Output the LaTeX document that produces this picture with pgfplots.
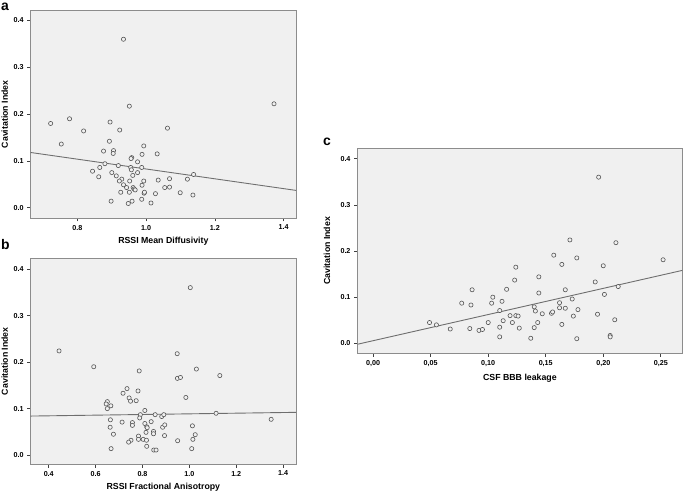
\documentclass[border=0pt]{standalone}
\usepackage{fontspec}
\setmainfont{Liberation Sans}
\usepackage{pgfplots}
\pgfplotsset{compat=1.18}

\definecolor{bgray}{HTML}{F0F0F0}
\definecolor{framegray}{HTML}{8C8C8C}
\definecolor{markgray}{HTML}{555555}
\definecolor{linegray}{HTML}{6E6E6E}

\pgfplotsset{
  spss/.style={
    scale only axis,
    axis background/.style={fill=bgray},
    axis line style={framegray, line width=0.9bp},
    tick align=outside,
    tick pos=left,
    major tick length=3.5bp,
    every tick/.style={black!75, line width=0.6bp},
    tick label style={font=\fontsize{7.2}{8}\selectfont\bfseries},
    /pgf/number format/assume math mode=true,
    label style={font=\fontsize{8.8}{10}\selectfont\bfseries},
    ytick={0,0.1,0.2,0.3,0.4},
    yticklabel style={/pgf/number format/.cd, fixed, fixed zerofill, precision=1},
    ylabel={Cavitation Index},
  },
  dots/.style={only marks, mark=*, mark size=2.1bp, mark options={draw=markgray, fill=bgray, line width=0.6bp}},
  fitline/.style={no marks, linegray, line width=0.9bp},
}

\begin{document}
\begin{tikzpicture}
\useasboundingbox (0,0) rectangle (684bp,492bp);

% ---------------- panel a ----------------
\begin{axis}[spss,
  at={(30.7bp,274bp)}, anchor=south west,
  width=265.3bp, height=207.3bp,
  xmin=0.664, xmax=1.436, ymin=-0.022, ymax=0.421,
  xtick={0.8,1.0,1.2,1.4},
  xticklabel style={/pgf/number format/.cd, fixed, fixed zerofill, precision=1},
  xlabel={RSSI Mean Diffusivity},
  xlabel style={at={([yshift=-23bp]axis description cs:0.5,0)}, anchor=center},
  ylabel style={at={([xshift=-26bp]axis description cs:0,0.5)}, anchor=center},
]
\addplot[dots] coordinates {
(0.934,0.360) (1.372,0.222) (0.951,0.217) (0.722,0.180) (0.777,0.190)
(0.818,0.164) (0.895,0.183) (0.923,0.166) (1.062,0.170) (0.753,0.136)
(0.893,0.142) (0.993,0.132) (0.876,0.121) (0.905,0.122) (0.904,0.116)
(0.988,0.114) (1.032,0.115) (0.958,0.107) (0.975,0.098) (0.956,0.105)
(0.880,0.094) (0.919,0.090) (0.987,0.086) (0.955,0.086) (0.957,0.081)
(0.865,0.086) (0.844,0.078) (0.862,0.066) (0.900,0.075) (0.913,0.068)
(0.929,0.061) (0.922,0.057) (0.952,0.057) (0.961,0.069) (0.975,0.075)
(0.934,0.049) (0.943,0.043) (0.962,0.043) (0.965,0.040) (0.968,0.038)
(0.988,0.048) (0.993,0.057) (1.035,0.059) (1.068,0.062) (1.054,0.043)
(1.068,0.044) (1.120,0.061) (1.138,0.071) (0.926,0.033) (0.951,0.033)
(0.994,0.031) (0.995,0.033) (1.027,0.030) (1.099,0.032) (1.136,0.027)
(0.898,0.014) (0.948,0.009) (0.959,0.014) (0.987,0.018) (1.014,0.010)
};
\addplot[fitline] coordinates {(0.664,0.118) (1.436,0.037)};
\end{axis}

% ---------------- panel b ----------------
\begin{axis}[spss,
  at={(30.7bp,28bp)}, anchor=south west,
  width=265.3bp, height=205.7bp,
  xmin=0.323, xmax=1.455, ymin=-0.019, ymax=0.423,
  xtick={0.4,0.6,0.8,1.0,1.2,1.4},
  xticklabel style={/pgf/number format/.cd, fixed, fixed zerofill, precision=1},
  xlabel={RSSI Fractional Anisotropy},
  xlabel style={at={([yshift=-23bp]axis description cs:0.5,0)}, anchor=center},
  ylabel style={at={([xshift=-26bp]axis description cs:0,0.5)}, anchor=center},
]
\addplot[dots] coordinates {
(1.004,0.360) (0.444,0.224) (0.592,0.190) (0.948,0.218) (1.030,0.185)
(0.786,0.181) (1.130,0.171) (0.949,0.165) (0.962,0.167) (0.734,0.143)
(0.717,0.133) (0.781,0.138) (0.743,0.123) (0.749,0.116) (0.773,0.117)
(0.985,0.124) (0.650,0.115) (0.645,0.110) (0.665,0.106) (0.650,0.100)
(0.810,0.096) (0.791,0.087) (0.854,0.087) (0.882,0.083) (0.891,0.087)
(0.788,0.080) (1.114,0.090) (0.663,0.076) (0.713,0.071) (0.757,0.070)
(0.757,0.064) (0.810,0.068) (0.837,0.072) (0.818,0.061) (0.820,0.059)
(0.662,0.060) (0.886,0.060) (0.895,0.065) (1.013,0.063) (0.676,0.045)
(0.815,0.049) (0.847,0.051) (0.847,0.046) (0.894,0.042) (1.025,0.044)
(0.783,0.041) (0.803,0.034) (0.783,0.034) (0.751,0.032) (0.741,0.028)
(0.817,0.032) (0.950,0.031) (1.015,0.034) (0.818,0.019) (0.666,0.014)
(0.848,0.011) (0.858,0.011) (1.010,0.014) (1.349,0.077)
};
\addplot[fitline] coordinates {(0.323,0.084) (1.455,0.092)};
\end{axis}

% ---------------- panel c ----------------
\begin{axis}[spss,
  at={(357.5bp,138.7bp)}, anchor=south west,
  width=324.8bp, height=205bp,
  xmin=-0.0136, xmax=0.2687, ymin=-0.0216, ymax=0.4225,
  xtick={0,0.05,0.10,0.15,0.20,0.25},
  xticklabel style={/pgf/number format/.cd, fixed, fixed zerofill, precision=2, use comma},
  xlabel={CSF BBB leakage},
  xlabel style={at={([yshift=-25bp]axis description cs:0.5,0)}, anchor=center},
  ylabel style={at={([xshift=-30.5bp]axis description cs:0,0.5)}, anchor=center},
]
\addplot[dots] coordinates {
(0.196,0.360) (0.171,0.224) (0.211,0.218) (0.157,0.191) (0.177,0.185)
(0.252,0.181) (0.164,0.171) (0.200,0.168) (0.124,0.165) (0.123,0.137)
(0.144,0.144) (0.193,0.133) (0.213,0.123) (0.086,0.116) (0.116,0.117)
(0.167,0.116) (0.144,0.109) (0.201,0.106) (0.104,0.100) (0.077,0.087)
(0.085,0.083) (0.103,0.087) (0.112,0.091) (0.173,0.096) (0.162,0.088)
(0.140,0.079) (0.110,0.071) (0.162,0.077) (0.167,0.076) (0.141,0.070)
(0.178,0.073) (0.147,0.064) (0.155,0.065) (0.156,0.068) (0.119,0.060)
(0.124,0.060) (0.126,0.059) (0.174,0.059) (0.195,0.063) (0.049,0.045)
(0.055,0.040) (0.100,0.045) (0.113,0.049) (0.121,0.045) (0.143,0.045)
(0.164,0.041) (0.210,0.051) (0.067,0.031) (0.084,0.032) (0.092,0.028)
(0.095,0.030) (0.110,0.035) (0.127,0.033) (0.140,0.034) (0.110,0.014)
(0.137,0.011) (0.177,0.010) (0.206,0.017) (0.206,0.014)
};
\addplot[fitline] coordinates {(-0.0136,-0.002) (0.2687,0.158)};
\end{axis}

% panel letters
\node[anchor=north west, inner sep=0pt, font=\fontsize{14}{14}\selectfont\bfseries] at (1bp,489bp) {a};
\node[anchor=north west, inner sep=0pt, font=\fontsize{14}{14}\selectfont\bfseries] at (1bp,252.5bp) {b};
\node[anchor=north west, inner sep=0pt, font=\fontsize{14}{14}\selectfont\bfseries] at (323bp,354bp) {c};
\end{tikzpicture}
\end{document}
